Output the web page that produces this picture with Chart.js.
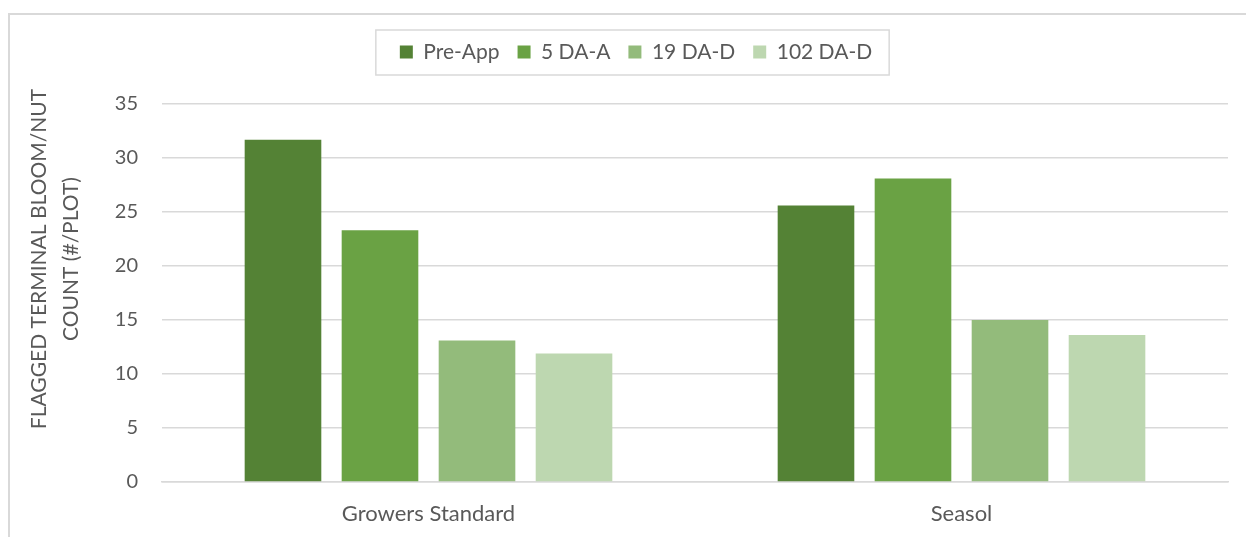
<!DOCTYPE html>
<html>
<head>
<meta charset="utf-8">
<script src="https://cdn.jsdelivr.net/npm/chart.js@4"></script>
<style>
  html, body { margin: 0; padding: 0; background: #ffffff; }
  #wrap { width: 1246px; height: 537px; position: relative; }
</style>
</head>
<body>
<div id="wrap"><canvas id="c" width="1246" height="537"></canvas></div>
<script>
const categories = ["Growers Standard", "Seasol"];
const seriesNames = ["Pre-App", "5 DA-A", "19 DA-D", "102 DA-D"];
const preApp = [31.7, 25.6];
const da5A = [23.3, 28.1];
const da19D = [13.1, 15.0];
const da102D = [11.9, 13.6];
const yTicks = [0, 5, 10, 15, 20, 25, 30, 35];
const yTitle = ["FLAGGED TERMINAL BLOOM/NUT", "COUNT (#/PLOT)"];

const colors = ["#548235", "#6AA244", "#93BB7B", "#BDD7B0"];
const textColor = "#595959";
const lineColor = "#D9D9D9";
const FONT = "Lato, 'Open Sans', sans-serif";

const outerBorder = {
  id: "outerBorder",
  beforeDraw(chart) {
    const ctx = chart.ctx;
    ctx.save();
    ctx.strokeStyle = lineColor;
    ctx.lineWidth = 2;
    ctx.strokeRect(9, 14, 1400, 700);
    ctx.restore();
  }
};

// shift legend row slightly right, like the reference
const legendShift = {
  id: "legendShift",
  afterLayout(chart) {
    if (chart.legend) { chart.legend.left += 22; chart.legend.right += 22; }
  }
};

const legendBox = {
  id: "legendBox",
  afterDraw(chart) {
    const lg = chart.legend;
    if (!lg || !lg.legendHitBoxes || !lg.legendHitBoxes.length) return;
    const hb = lg.legendHitBoxes;
    let minX = Infinity, maxX = -Infinity, cy = 0;
    hb.forEach(h => {
      minX = Math.min(minX, h.left);
      maxX = Math.max(maxX, h.left + h.width);
      cy = h.top + h.height / 2;
    });
    const ctx = chart.ctx;
    ctx.save();
    ctx.strokeStyle = lineColor;
    ctx.lineWidth = 1.5;
    ctx.strokeRect(minX - 24, cy - 22, (maxX + 17) - (minX - 24), 45);
    ctx.restore();
  }
};

// y axis title, drawn rotated and centred on the whole chart height
const yTitlePlugin = {
  id: "yTitlePlugin",
  afterDraw(chart) {
    const ctx = chart.ctx;
    ctx.save();
    ctx.fillStyle = textColor;
    ctx.font = "21px " + FONT;
    ctx.textAlign = "center";
    ctx.textBaseline = "middle";
    const cy = 259;
    const xs = [39, 71];
    yTitle.forEach((t, i) => {
      ctx.save();
      ctx.translate(xs[i], cy);
      ctx.rotate(-Math.PI / 2);
      ctx.fillText(t, 0, 0);
      ctx.restore();
    });
    ctx.restore();
  }
};

const datasets = [preApp, da5A, da19D, da102D].map((d, i) => ({
  label: seriesNames[i],
  data: d,
  backgroundColor: colors[i],
  borderWidth: 0,
  categoryPercentage: 0.728,
  barPercentage: 0.79
}));

new Chart(document.getElementById("c"), {
  type: "bar",
  data: { labels: categories, datasets },
  plugins: [outerBorder, legendShift, legendBox, yTitlePlugin],
  options: {
    responsive: false,
    animation: false,
    devicePixelRatio: 1,
    layout: { padding: { top: 23.5, right: 18, bottom: 0, left: 0 } },
    plugins: {
      legend: {
        position: "top",
        weight: 3000,
        labels: {
          boxWidth: 13,
          boxHeight: 13,
          padding: 18,
          color: textColor,
          font: { family: FONT, size: 21 }
        }
      },
      title: {
        display: true,
        text: " ",
        weight: 1000,
        font: { size: 10, lineHeight: 1 },
        padding: { top: 0, bottom: 21.5 }
      },
      tooltip: { enabled: false }
    },
    scales: {
      x: {
        grid: { display: false, drawTicks: false },
        border: { display: true, color: lineColor, width: 1.5 },
        ticks: { color: textColor, font: { family: FONT, size: 22 }, padding: 19 },
        afterFit(scale) { scale.height = 55; }
      },
      y: {
        min: 0,
        max: 35,
        afterBuildTicks(scale) { scale.ticks = yTicks.map(v => ({ value: v })); },
        grid: { color: lineColor, lineWidth: 1.5, drawTicks: false },
        border: { display: false },
        ticks: { color: textColor, font: { family: FONT, size: 20 }, padding: 24 },
        afterFit(scale) { scale.width = 162; }
      }
    }
  }
});
</script>
</body>
</html>
